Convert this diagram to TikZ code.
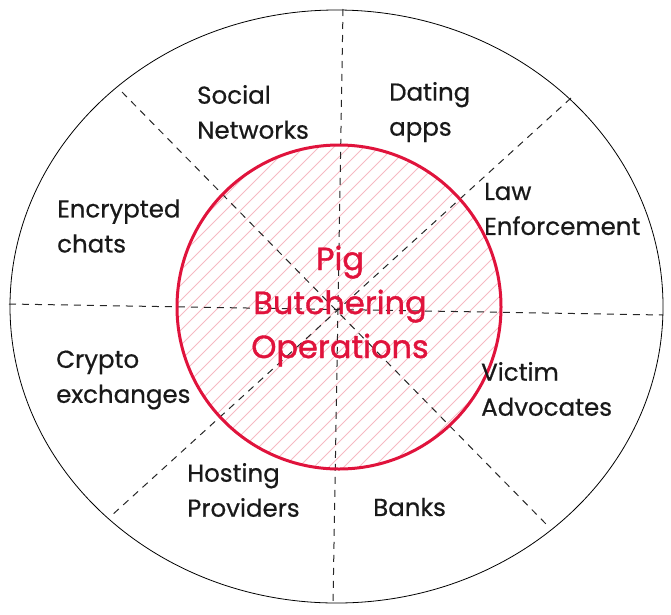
\documentclass[tikz,border=0pt]{standalone}
\usepackage{fontspec}
\setmainfont{Poppins}[FakeBold=0.6]
\newfontfamily\corefont{Poppins}[FakeBold=1.2]
\definecolor{pigred}{HTML}{E0133C}
\definecolor{hatchpink}{HTML}{F6B9C3}

\begin{document}
\begin{tikzpicture}[x=1pt,y=-1pt,
    divider/.style={black!85,dashed,dash pattern=on 7pt off 6pt,line width=1pt},
    hatch/.style={hatchpink,line width=0.9pt},
    sector/.style={anchor=west,align=left,inner sep=0pt,text=black!90,
      font=\fontsize{24.5}{35}\selectfont},
    core/.style={pigred,align=center,inner sep=0pt,
      font=\corefont\fontsize{32}{44}\selectfont}]
  \useasboundingbox (0,0) rectangle (671,614);
  % outer ring
  \draw[line width=0.8pt] (336.5,306.5) ellipse [x radius=326.5,y radius=296.5];
  % hatching of the core
  \begin{scope}
    \clip (339,307) circle (162);
    \foreach \k in {-360,-345,...,360} {
      \draw[hatch] (\k+139,507)--(\k+539,107);
    }
  \end{scope}
  % dividers
  \coordinate (vt) at (343,9);   \coordinate (vb) at (333,603);
  \coordinate (hl) at (9,304);   \coordinate (hr) at (663,315);
  \coordinate (ul) at (122,92);  \coordinate (lr) at (546,524);
  \coordinate (ur) at (571,98);  \coordinate (ll) at (111,516);
  \draw[divider] (vt)--(vb);
  \draw[divider] (hl)--(hr);
  \draw[divider] (ul)--(lr);
  \draw[divider] (ur)--(ll);
  \draw[pigred,line width=3pt] (339,307) circle (162);
  % sectors
  \node[sector] (soc) at (197,112) {Social\\Networks};
  \node[sector] (dat) at (389,112) {Dating\\apps};
  \node[sector] (law) at (484,209) {Law\\Enforcement};
  \node[sector] (enc) at (57,226) {Encrypted\\chats};
  \node[sector] (cry) at (56,380) {Crypto\\exchanges};
  \node[sector] (vic) at (481,389) {Victim\\Advocates};
  \node[sector] (hos) at (187,490) {Hosting\\Providers};
  \node[sector] (ban) at (373,507) {Banks};
  \node[core] (pig) at (340,306) {Pig\\Butchering\\Operations};
\end{tikzpicture}
\end{document}
